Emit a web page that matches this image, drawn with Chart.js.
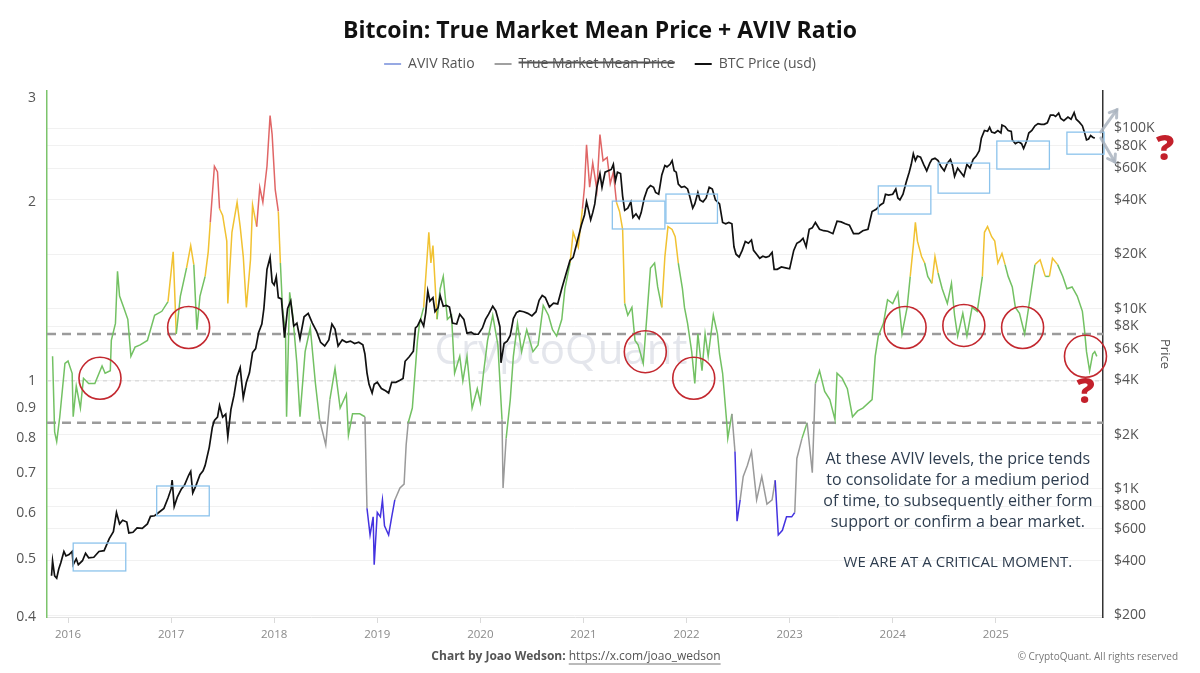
<!DOCTYPE html>
<html>
<head>
<meta charset="utf-8">
<script src="https://cdn.jsdelivr.net/npm/chart.js@4.4.1/dist/chart.umd.min.js"></script>
<style>
html,body{margin:0;padding:0;background:#fff;}
#wrap{width:1200px;height:673px;position:relative;}
</style>
</head>
<body>
<div id="wrap"><canvas id="c" width="1200" height="673"></canvas></div>
<script>
// ---------------- DATA ----------------
const avivDates = [2015.85,2015.87,2015.89,2015.92,2015.97,2016.00,2016.04,2016.05,2016.08,2016.12,2016.15,2016.20,2016.26,2016.33,2016.36,2016.41,2016.42,2016.46,2016.48,2016.50,2016.54,2016.58,2016.61,2016.65,2016.70,2016.77,2016.84,2016.91,2016.97,
2017.02,2017.05,2017.09,2017.15,2017.19,2017.22,2017.25,2017.28,2017.33,2017.36,2017.38,2017.42,2017.45,2017.47,2017.50,2017.54,2017.55,2017.59,2017.64,2017.67,2017.70,2017.73,2017.77,2017.79,2017.83,2017.86,2017.89,2017.93,2017.96,2017.98,
2018.01,2018.04,2018.06,2018.08,2018.11,2018.12,2018.15,2018.18,2018.22,2018.25,2018.30,2018.35,2018.40,2018.44,2018.50,2018.54,2018.59,2018.64,2018.70,2018.72,2018.76,2018.83,2018.88,2018.90,2018.93,2018.96,2018.97,
2019.00,2019.03,2019.05,2019.07,2019.11,2019.14,2019.17,2019.22,2019.26,2019.28,2019.30,2019.34,2019.39,2019.41,2019.45,2019.50,2019.52,2019.54,2019.58,2019.61,2019.64,2019.68,2019.72,2019.75,2019.80,2019.83,2019.87,2019.92,2019.97,
2020.00,2020.03,2020.07,2020.12,2020.17,2020.21,2020.22,2020.25,2020.29,2020.32,2020.36,2020.40,2020.45,2020.51,2020.56,2020.61,2020.66,2020.70,2020.74,2020.79,2020.82,2020.87,2020.90,2020.95,2020.99,
2021.01,2021.03,2021.06,2021.09,2021.13,2021.16,2021.19,2021.23,2021.26,2021.29,2021.32,2021.35,2021.38,2021.40,2021.43,2021.47,2021.50,2021.53,2021.58,2021.61,2021.65,2021.69,2021.72,2021.76,2021.79,2021.82,2021.86,2021.89,2021.92,2021.96,2021.98,
2022.01,2022.05,2022.08,2022.11,2022.15,2022.18,2022.21,2022.26,2022.30,2022.32,2022.35,2022.39,2022.40,2022.44,2022.47,2022.49,2022.52,2022.55,2022.59,2022.63,2022.68,2022.73,2022.78,2022.83,2022.86,2022.89,2022.93,2022.97,
2023.02,2023.05,2023.07,2023.12,2023.17,2023.22,2023.25,2023.29,2023.34,2023.39,2023.44,2023.46,2023.51,2023.56,2023.61,2023.66,2023.71,2023.80,2023.83,2023.86,2023.91,2023.95,
2024.00,2024.05,2024.09,2024.14,2024.17,2024.20,2024.22,2024.24,2024.28,2024.31,2024.34,2024.38,2024.41,2024.44,2024.48,2024.53,2024.57,2024.60,2024.63,2024.68,2024.72,2024.77,2024.82,2024.87,2024.89,2024.92,2024.96,2024.99,
2025.02,2025.06,2025.09,2025.12,2025.16,2025.19,2025.23,2025.28,2025.33,2025.38,2025.43,2025.48,2025.52,2025.55,2025.60,2025.65,2025.69,2025.74,2025.79,2025.84,2025.86,2025.88,2025.91,2025.94,2025.96,2025.98];

const avivValues = [1.10,0.82,0.79,0.87,1.07,1.08,1.03,0.87,0.98,0.90,1.01,0.99,0.99,1.06,1.03,1.04,1.17,1.25,1.53,1.39,1.33,1.27,1.10,1.14,1.15,1.17,1.29,1.31,1.36,
1.65,1.20,1.39,1.55,1.69,1.57,1.22,1.39,1.50,1.65,1.85,2.30,2.25,1.95,1.90,1.72,1.35,1.78,2.00,1.82,1.62,1.33,1.60,1.98,1.82,2.12,2.00,2.30,2.80,2.60,
2.10,1.93,1.58,1.33,1.20,0.87,1.41,1.29,1.07,0.87,1.12,1.23,0.99,0.86,0.78,0.93,1.05,0.90,0.95,0.81,0.88,0.88,0.87,0.61,0.55,0.59,0.49,
0.60,0.59,0.63,0.57,0.55,0.59,0.63,0.66,0.67,0.78,0.85,0.90,1.17,1.25,1.33,1.78,1.58,1.69,1.27,1.43,1.50,1.27,1.29,1.03,1.10,1.00,1.10,0.90,0.97,
0.92,1.03,1.17,1.29,1.15,0.86,0.66,0.80,0.93,1.10,1.25,1.12,1.22,1.12,1.15,1.34,1.29,1.22,1.19,1.27,1.43,1.58,1.78,1.68,1.95,
2.12,2.50,2.12,2.33,2.10,2.60,2.35,2.38,2.15,2.25,2.00,1.93,1.80,1.35,1.29,1.33,1.17,1.15,1.07,1.25,1.55,1.58,1.44,1.33,1.62,1.82,1.80,1.75,1.58,1.43,1.33,
1.25,1.12,0.99,1.20,1.04,1.20,1.10,1.29,1.20,1.11,1.03,0.85,0.80,0.88,0.76,0.58,0.63,0.69,0.72,0.76,0.63,0.69,0.62,0.63,0.68,0.55,0.56,0.59,
0.59,0.60,0.74,0.80,0.85,0.70,0.99,1.04,0.96,0.93,0.86,1.03,1.01,0.97,0.87,0.89,0.90,0.93,1.10,1.19,1.25,1.37,
1.35,1.41,1.20,1.33,1.50,1.69,1.85,1.72,1.62,1.58,1.50,1.46,1.62,1.52,1.43,1.35,1.46,1.29,1.19,1.30,1.19,1.33,1.31,1.50,1.78,1.82,1.75,1.72,
1.58,1.64,1.57,1.50,1.44,1.33,1.30,1.20,1.37,1.57,1.60,1.50,1.50,1.61,1.57,1.50,1.43,1.44,1.39,1.31,1.22,1.12,1.04,1.11,1.12,1.10];

const priceDates = [2015.84,2015.85,2015.87,2015.89,2015.91,2015.93,2015.96,2015.98,
2016.01,2016.04,2016.05,2016.08,2016.10,2016.14,2016.17,2016.20,2016.25,2016.30,2016.35,2016.40,2016.44,2016.47,2016.50,2016.53,2016.57,2016.59,2016.63,2016.67,2016.72,2016.77,2016.80,2016.84,2016.88,2016.93,2016.97,
2017.00,2017.01,2017.03,2017.06,2017.10,2017.13,2017.17,2017.19,2017.21,2017.24,2017.28,2017.31,2017.33,2017.37,2017.40,2017.42,2017.45,2017.47,2017.50,2017.53,2017.55,2017.58,2017.61,2017.64,2017.67,2017.70,2017.73,2017.76,2017.79,2017.82,2017.85,2017.88,2017.90,2017.93,2017.96,2017.98,
2018.00,2018.02,2018.04,2018.07,2018.09,2018.10,2018.13,2018.16,2018.19,2018.22,2018.25,2018.29,2018.33,2018.37,2018.41,2018.45,2018.49,2018.53,2018.56,2018.59,2018.62,2018.66,2018.70,2018.74,2018.78,2018.82,2018.86,2018.88,2018.90,2018.92,2018.95,2018.97,
2019.00,2019.04,2019.08,2019.11,2019.14,2019.18,2019.22,2019.25,2019.27,2019.31,2019.35,2019.37,2019.39,2019.42,2019.45,2019.47,2019.49,2019.51,2019.54,2019.56,2019.59,2019.61,2019.64,2019.67,2019.70,2019.73,2019.77,2019.80,2019.84,2019.87,2019.91,2019.94,2019.98,
2020.02,2020.05,2020.08,2020.12,2020.15,2020.17,2020.19,2020.20,2020.23,2020.26,2020.29,2020.32,2020.35,2020.38,2020.42,2020.46,2020.50,2020.54,2020.57,2020.60,2020.63,2020.67,2020.71,2020.75,2020.79,2020.83,2020.87,2020.90,2020.94,2020.98,
2021.01,2021.03,2021.05,2021.07,2021.09,2021.11,2021.13,2021.16,2021.18,2021.21,2021.24,2021.27,2021.29,2021.31,2021.33,2021.36,2021.38,2021.40,2021.43,2021.46,2021.48,2021.51,2021.54,2021.56,2021.59,2021.62,2021.65,2021.68,2021.70,2021.73,2021.76,2021.79,2021.81,2021.84,2021.86,2021.88,2021.90,2021.92,2021.95,2021.98,
2022.01,2022.03,2022.06,2022.08,2022.11,2022.13,2022.16,2022.19,2022.22,2022.25,2022.28,2022.32,2022.35,2022.38,2022.41,2022.44,2022.46,2022.48,2022.51,2022.54,2022.57,2022.60,2022.63,2022.65,2022.68,2022.71,2022.74,2022.77,2022.80,2022.83,2022.85,2022.88,2022.92,2022.96,
2023.00,2023.04,2023.07,2023.10,2023.13,2023.16,2023.19,2023.22,2023.25,2023.29,2023.33,2023.37,2023.42,2023.46,2023.50,2023.54,2023.58,2023.62,2023.67,2023.71,2023.76,2023.80,2023.84,2023.88,2023.91,2023.93,2023.96,
2024.00,2024.03,2024.05,2024.07,2024.10,2024.13,2024.16,2024.18,2024.20,2024.22,2024.24,2024.27,2024.30,2024.33,2024.36,2024.38,2024.41,2024.44,2024.47,2024.50,2024.53,2024.56,2024.58,2024.60,2024.63,2024.66,2024.69,2024.72,2024.75,2024.78,2024.81,2024.84,2024.86,2024.89,2024.92,2024.94,2024.96,2024.99,
2025.02,2025.05,2025.06,2025.09,2025.12,2025.15,2025.16,2025.19,2025.22,2025.25,2025.27,2025.30,2025.32,2025.35,2025.38,2025.41,2025.44,2025.47,2025.50,2025.53,2025.56,2025.58,2025.61,2025.63,2025.66,2025.70,2025.73,2025.76,2025.78,2025.81,2025.84,2025.86,2025.88,2025.90,2025.92,2025.94,2025.96];

const priceValues = [330,400,330,320,360,390,450,425,
433,450,380,410,380,400,440,415,418,450,455,530,580,740,640,670,655,570,575,608,605,640,705,710,740,780,890,
1000,1120,800,900,1000,1050,1190,1250,950,1040,1200,1260,1350,1700,2200,2400,2500,2900,2500,2600,1950,2750,3300,4200,4700,3200,3900,4400,5700,6000,7400,8200,10000,16500,19200,14000,
13500,15000,11500,11300,8200,6900,10000,11000,8000,8300,6800,9000,9400,8300,7500,6500,6200,6700,8200,7700,6200,6700,6500,6600,6400,6500,6300,5600,4400,3800,3400,3800,
3900,3600,3500,3400,3900,3900,4000,4100,5100,5400,5800,7800,8000,8700,8000,9500,12500,11000,11500,9600,10100,11800,10300,10400,10200,8300,8200,9300,8700,7300,7400,7200,7200,
7800,8700,9300,10300,9700,8800,7900,5000,6400,6600,7100,8800,9500,9700,9600,9400,9100,9600,11100,11800,11500,10200,10700,10600,12900,15500,18500,19200,23500,29000,
33000,39000,35000,31000,34000,38000,47000,56000,47000,57000,58000,59000,63000,51000,57000,56000,42000,35000,36000,39000,32000,33500,31500,34000,41000,46000,48000,47000,44000,43000,55000,62000,61000,63000,66000,58000,57000,49000,47000,47500,
46000,42000,36000,38000,44000,40000,39000,41000,47000,46000,40000,38000,30000,29500,30000,29500,22000,20000,19300,21000,23500,23000,24000,21000,20000,19000,19500,19200,19500,20500,16500,16500,17000,16800,
16600,21000,23000,23500,24500,22000,27500,28000,30000,27500,27000,26800,26000,30500,30200,29500,29000,26000,26000,27000,27500,34500,35500,37500,38500,43000,42500,
43000,46000,41000,40000,43000,50000,57000,63000,72000,66000,70000,69000,63000,58000,64000,67000,68000,66000,61000,58000,64000,67000,62000,54000,60000,57000,54000,63000,60000,67000,70000,75000,88000,97000,96000,101000,95000,94000,
97000,94000,104000,102000,97000,96000,86000,82000,84000,82000,77000,85000,94000,97000,103000,106000,105000,105000,107000,118000,118000,116000,121000,113000,110000,115000,112000,122000,112000,108000,103000,95000,86000,87000,91000,89000,88000];

const trueMarketMeanValues = []; // series shown (hidden) in the legend only

const yearTicks = [2016,2017,2018,2019,2020,2021,2022,2023,2024,2025];
const avivTicks = [0.4,0.5,0.6,0.7,0.8,0.9,1,2,3];
const priceTicks = [200,400,600,800,1000,2000,4000,6000,8000,10000,20000,40000,60000,80000,100000];

// AVIV reference levels
const avivBandLevels = [1.2, 0.85];
const avivParLevel = 1.0;
// consolidation boxes [x0, x1, priceLow, priceHigh]
const priceBoxes = [
  [2016.05,2016.56,351,501],
  [2016.86,2017.37,709,1038],
  [2021.28,2021.79,27600,39400],
  [2021.80,2022.30,29700,43100],
  [2023.86,2024.37,33400,47800],
  [2024.44,2024.94,43600,64000],
  [2025.01,2025.52,59300,84800],
  [2025.69,2026.05,71700,95000]
];
// circled AVIV touches [x, aviv]
const avivCircles = [[2016.31,1.01],[2017.17,1.23],[2021.60,1.12],[2022.07,1.01],[2024.12,1.23],[2024.69,1.24],[2025.26,1.23],[2025.87,1.10]];
const noteLines = ["At these AVIV levels, the price tends","to consolidate for a medium period","of time, to subsequently either form","support or confirm a bear market."];
const noteEmphasis = "WE ARE AT A CRITICAL MOMENT.";

// ---------------- STYLE ----------------
const C_GREEN = '#73c163', C_YELLOW = '#f1c232', C_RED = '#e06666', C_GREY = '#9a9a9a', C_BLUE = '#4433e0';
function avivColor(a, b) {
  const hi = Math.max(a, b), lo = Math.min(a, b);
  if (hi >= 2.1) return C_RED;
  if (hi >= 1.6) return C_YELLOW;
  if (lo < 0.6) return C_BLUE;
  if (lo < 0.79) return C_GREY;
  return C_GREEN;
}
const FONT = "'Open Sans', 'Noto Sans', sans-serif";

const avivData = avivDates.map((d, i) => ({x: d, y: avivValues[i]}));
const priceData = priceDates.map((d, i) => ({x: d, y: priceValues[i]}));

function fmtPrice(v) {
  if (v >= 1000) return '$' + (v / 1000) + 'K';
  return '$' + v;
}

const decorPlugin = {
  id: 'decor',
  beforeDatasetsDraw(chart) {
    const {ctx, chartArea: a, scales} = chart;
    const y = scales.y;
    ctx.save();
    // watermark
    ctx.fillStyle = 'rgba(205,209,220,0.55)';
    ctx.font = "400 42px " + FONT;
    ctx.textAlign = 'center';
    ctx.textBaseline = 'middle';
    ctx.fillText('CryptoQuant', 561, 352);
    // AVIV = 1 light dashed
    ctx.setLineDash([4, 4]);
    ctx.strokeStyle = '#cfcfcf';
    ctx.lineWidth = 1;
    let py = y.getPixelForValue(avivParLevel);
    ctx.beginPath(); ctx.moveTo(a.left, py); ctx.lineTo(a.right, py); ctx.stroke();
    // band levels
    ctx.setLineDash([9, 6]);
    ctx.strokeStyle = '#9b9b9b';
    ctx.lineWidth = 2.5;
    avivBandLevels.forEach(v => {
      const p = y.getPixelForValue(v);
      ctx.beginPath(); ctx.moveTo(a.left, p); ctx.lineTo(a.right, p); ctx.stroke();
    });
    ctx.restore();
  },
  afterDatasetsDraw(chart) {
    const {ctx, scales} = chart;
    const x = scales.x, y = scales.y, y2 = scales.y2;
    ctx.save();
    // boxes
    ctx.strokeStyle = '#8cc3ec';
    ctx.lineWidth = 1.3;
    priceBoxes.forEach(b => {
      const x0 = x.getPixelForValue(b[0]), x1 = x.getPixelForValue(b[1]);
      const yt = y2.getPixelForValue(b[3]), yb = y2.getPixelForValue(b[2]);
      ctx.strokeRect(x0, yt, x1 - x0, yb - yt);
    });
    // circles
    ctx.strokeStyle = '#c3282f';
    ctx.lineWidth = 1.6;
    avivCircles.forEach(c => {
      ctx.beginPath();
      ctx.arc(x.getPixelForValue(c[0]), y.getPixelForValue(c[1]), 21, 0, Math.PI * 2);
      ctx.stroke();
    });
    // arrows at the end of the price line
    const ax = x.getPixelForValue(2025.98), ay = y2.getPixelForValue(86000);
    function arrow(x0, y0, x1, y1) {
      ctx.beginPath(); ctx.moveTo(x0, y0); ctx.lineTo(x1, y1); ctx.stroke();
      const ang = Math.atan2(y1 - y0, x1 - x0), L = 8;
      ctx.beginPath();
      ctx.moveTo(x1 - L * Math.cos(ang - 0.6), y1 - L * Math.sin(ang - 0.6));
      ctx.lineTo(x1, y1);
      ctx.lineTo(x1 - L * Math.cos(ang + 0.6), y1 - L * Math.sin(ang + 0.6));
      ctx.stroke();
    }
    ctx.strokeStyle = 'rgba(170,180,192,0.85)';
    ctx.lineWidth = 3;
    ctx.lineCap = 'round';
    arrow(ax + 4, ay - 8, ax + 20, ay - 30);
    arrow(ax + 4, ay - 2, ax + 18, ay + 22);
    // question marks
    ctx.fillStyle = '#c3202b';
    ctx.font = "800 36px " + FONT;
    ctx.textAlign = 'center';
    ctx.textBaseline = 'middle';
    ctx.fillText('?', x.getPixelForValue(2025.87), y.getPixelForValue(0.955));
    ctx.fillText('?', chart.chartArea.right + 62, y2.getPixelForValue(76000));
    // note text
    ctx.fillStyle = '#2e3d4f';
    ctx.font = "16px " + FONT;
    const nx = x.getPixelForValue(2024.632);
    const ny = y.getPixelForValue(0.736);
    noteLines.forEach((t, i) => ctx.fillText(t, nx, ny + i * 21));
    ctx.font = "15px " + FONT;
    ctx.fillText(noteEmphasis, nx, ny + 103);
    ctx.restore();
  },
  afterDraw(chart) {
    const {ctx} = chart;
    ctx.save();
    ctx.textBaseline = 'middle';
    const fy = 657;
    ctx.font = "bold 12px " + FONT;
    const p1 = 'Chart by Joao Wedson: ';
    const w1 = ctx.measureText(p1).width;
    ctx.font = "12px " + FONT;
    const p2 = 'https://x.com/joao_wedson';
    const w2 = ctx.measureText(p2).width;
    let sx = 576 - (w1 + w2) / 2;
    ctx.fillStyle = '#555';
    ctx.textAlign = 'left';
    ctx.font = "bold 12px " + FONT;
    ctx.fillText(p1, sx, fy);
    ctx.font = "12px " + FONT;
    ctx.fillText(p2, sx + w1, fy);
    ctx.strokeStyle = '#777';
    ctx.lineWidth = 1;
    ctx.beginPath(); ctx.moveTo(sx + w1, fy + 7); ctx.lineTo(sx + w1 + w2, fy + 7); ctx.stroke();
    ctx.font = "10px " + FONT;
    ctx.fillStyle = '#777';
    ctx.textAlign = 'right';
    ctx.fillText('\u00A9 CryptoQuant. All rights reserved', 1178, fy);
    ctx.restore();
  }
};

new Chart(document.getElementById('c'), {
  type: 'line',
  data: {
    datasets: [
      {
        label: 'AVIV Ratio',
        data: avivData,
        yAxisID: 'y',
        borderColor: '#97a9e3',
        backgroundColor: '#97a9e3',
        borderWidth: 1.5,
        pointRadius: 0,
        pointBorderWidth: 2,
        tension: 0,
        order: 1,
        segment: { borderColor: c => avivColor(c.p0.parsed.y, c.p1.parsed.y) }
      },
      {
        label: 'True Market Mean Price',
        data: trueMarketMeanValues,
        yAxisID: 'y2',
        hidden: true,
        borderColor: '#a0a0a0',
        backgroundColor: '#a0a0a0',
        borderWidth: 1.5,
        pointRadius: 0,
        pointBorderWidth: 2,
        order: 2
      },
      {
        label: 'BTC Price (usd)',
        data: priceData,
        yAxisID: 'y2',
        borderColor: '#111',
        backgroundColor: '#111',
        borderWidth: 1.7,
        pointRadius: 0,
        pointBorderWidth: 2,
        tension: 0,
        order: 0
      }
    ]
  },
  options: {
    responsive: false,
    animation: false,
    events: [],
    layout: { padding: 0 },
    plugins: {
      title: {
        display: true,
        text: 'Bitcoin: True Market Mean Price + AVIV Ratio',
        color: '#111',
        font: { family: FONT, size: 23, weight: 'bold' },
        padding: { top: 17.2, bottom: -7.8 }
      },
      subtitle: {
        display: true, text: '', weight: 500,
        font: { size: 1, lineHeight: 1 },
        padding: { top: 9, bottom: 0 }
      },
      legend: {
        display: true,
        labels: {
          usePointStyle: true,
          pointStyle: 'line',
          pointStyleWidth: 17,
          padding: 20,
          color: '#555',
          font: { family: FONT, size: 14 },
          sort: (a, b) => a.datasetIndex - b.datasetIndex
        }
      },
      tooltip: { enabled: false }
    },
    scales: {
      x: {
        type: 'linear',
        min: 2015.796,
        max: 2026.04,
        afterBuildTicks: s => { s.ticks = yearTicks.map(v => ({value: v})); },
        afterFit: s => { s.height = 56; },
        ticks: { callback: v => String(v), color: '#8a8a8a', font: { family: FONT, size: 11.5 }, padding: 5, maxRotation: 0, autoSkip: false },
        grid: { display: true, drawOnChartArea: false, drawTicks: true, tickLength: 6, color: '#dadada' },
        border: { display: true, color: '#e2e2e2', width: 1 }
      },
      y: {
        type: 'logarithmic',
        position: 'left',
        min: 0.4,
        max: 3.08,
        afterBuildTicks: s => { s.ticks = avivTicks.map(v => ({value: v})); },
        afterFit: s => { s.width = 47; },
        ticks: { callback: v => String(v), color: '#555', font: { family: FONT, size: 14 }, padding: 11, autoSkip: false },
        grid: { display: true, drawOnChartArea: false, drawTicks: false },
        border: { display: true, color: '#7cc46c', width: 1.5 }
      },
      y2: {
        type: 'logarithmic',
        position: 'right',
        min: 195,
        max: 160600,
        afterBuildTicks: s => { s.ticks = priceTicks.map(v => ({value: v})); },
        afterFit: s => { s.width = 97; },
        ticks: { callback: v => fmtPrice(v), color: '#555', font: { family: FONT, size: 14 }, padding: 11, autoSkip: false },
        grid: { display: true, drawOnChartArea: true, drawTicks: false, color: '#f1f1f1' },
        border: { display: true, color: '#333', width: 1.5 },
        title: { display: true, text: 'Price', color: '#555', font: { family: FONT, size: 13 }, padding: { top: 27, bottom: 0 } }
      }
    }
  },
  plugins: [decorPlugin]
});
</script>
</body>
</html>
